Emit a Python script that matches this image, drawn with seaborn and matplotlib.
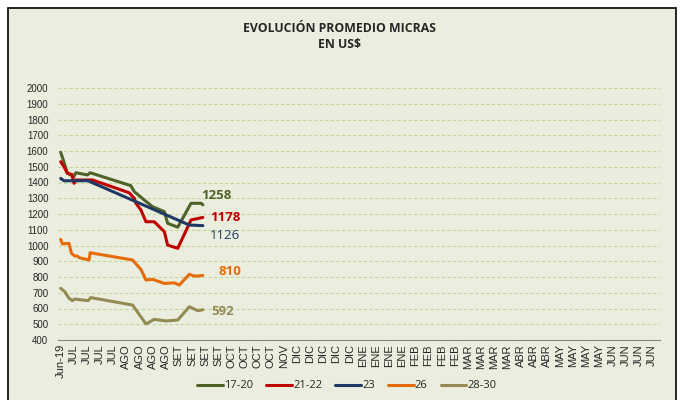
import pandas as pd
import seaborn as sns
import matplotlib.pyplot as plt
from matplotlib.patches import Rectangle

# etiquetas del eje x (una por semana)
semanas = ['Jun-19', 'JUL', 'JUL', 'JUL', 'JUL', 'AGO', 'AGO', 'AGO', 'AGO',
           'SET', 'SET', 'SET', 'SET', 'OCT', 'OCT', 'OCT', 'OCT', 'NOV',
           'DIC', 'DIC', 'DIC', 'DIC', 'DIC', 'ENE', 'ENE', 'ENE', 'ENE',
           'FEB', 'FEB', 'FEB', 'FEB', 'MAR', 'MAR', 'MAR', 'MAR',
           'ABR', 'ABR', 'ABR', 'MAY', 'MAY', 'MAY', 'MAY',
           'JUN', 'JUN', 'JUN', 'JUN']

# posicion (en semanas) y precio de cada serie
x_17_20 = [0, 0.25, 0.5, 1.0, 1.15, 2.04, 2.24, 5.34, 5.6, 6.36, 7.0, 7.89, 8.14, 8.91, 9.92, 10.69, 10.82]
y_17_20 = [1592, 1530, 1460, 1437, 1462, 1448, 1462, 1380, 1342, 1289, 1246, 1215, 1141, 1116, 1268, 1268, 1258]

x_21_22 = [0, 0.25, 0.51, 0.84, 1.02, 1.15, 2.42, 5.21, 5.6, 5.73, 6.11, 6.49, 7.12, 7.89, 8.14, 8.91, 9.92, 10.69, 10.82]
y_21_22 = [1532, 1501, 1458, 1452, 1395, 1416, 1416, 1335, 1300, 1268, 1225, 1151, 1151, 1088, 1003, 982, 1162, 1176, 1178]

x_23 = [0, 0.25, 2.08, 9.79, 10.82]
y_23 = [1426, 1411, 1411, 1130, 1126]

x_26 = [0, 0.13, 0.63, 0.82, 1.07, 1.27, 1.40, 2.16, 2.24, 5.47, 6.11, 6.49, 7.0, 7.89, 8.65, 9.03, 9.79, 10.18, 10.44, 10.82]
y_26 = [1039, 1010, 1014, 951, 933, 933, 923, 908, 954, 908, 848, 781, 785, 759, 763, 749, 817, 806, 806, 810]

x_28_30 = [0, 0.31, 0.63, 0.89, 1.07, 2.08, 2.29, 5.47, 6.49, 7.12, 8.02, 8.91, 9.79, 10.44, 10.82]
y_28_30 = [728, 707, 665, 650, 660, 650, 669, 622, 502, 531, 521, 527, 611, 586, 592]

series = ['17-20', '21-22', '23', '26', '28-30']
colores = ['#4F6228', '#C00000', '#1F3864', '#E46C0A', '#948A54']
ultimos = [1258, 1178, 1126, 810, 592]

frames = []
for nombre, xs, ys in zip(series,
                          [x_17_20, x_21_22, x_23, x_26, x_28_30],
                          [y_17_20, y_21_22, y_23, y_26, y_28_30]):
    frames.append(pd.DataFrame({'semana': xs, 'precio': ys, 'serie': nombre}))
df = pd.concat(frames, ignore_index=True)

sns.set_style('white')
plt.rcParams['font.family'] = ['Open Sans', 'DejaVu Sans']
fondo = '#EBEEDF'

fig = plt.figure(figsize=(6.83, 4), dpi=100, facecolor='white')
fig.patches.append(Rectangle((8 / 683, -0.1), 668 / 683, 1.08, transform=fig.transFigure,
                             facecolor=fondo, edgecolor='black', linewidth=1.2, zorder=-5))
ax = fig.add_axes([0.085, 0.15, 0.881, 0.63])
ax.set_zorder(2)
ax.set_facecolor(fondo)

sns.lineplot(data=df, x='semana', y='precio', hue='serie', palette=colores,
             estimator=None, sort=False, linewidth=2.2, ax=ax)

ax.set_ylim(400, 2000)
ax.set_yticks(range(400, 2001, 100))
ax.set_xlim(-0.2, 45.6)
ax.set_xticks(range(len(semanas)))
ax.set_xticklabels(semanas, rotation=90, fontsize=8, family=['Liberation Sans'])
ax.tick_params(axis='y', labelsize=7, length=0, pad=7)
ax.tick_params(axis='x', length=0, pad=3)
for lbl in ax.get_yticklabels():
    lbl.set_family(['Liberation Sans'])
ax.grid(axis='y', linestyle=(0, (3, 2)), color='#C3D69B', linewidth=0.8)
ax.set_axisbelow(True)
for s in ['top', 'right', 'left']:
    ax.spines[s].set_visible(False)
ax.spines['bottom'].set_color('#868686')
ax.set_xlabel('')
ax.set_ylabel('')

# etiquetas de valor final
desplaz = [(-1, 7), (5, 0), (5, -7), (11, 3), (6, -1.5)]
negrita = ['bold', 'bold', 'normal', 'bold', 'bold']
for nombre, col, val, (dx, dy), w, xs in zip(series, colores, ultimos, desplaz, negrita,
                                              [x_17_20, x_21_22, x_23, x_26, x_28_30]):
    ax.annotate(str(val), (xs[-1], val), xytext=(dx, dy), textcoords='offset points',
                color=col, fontsize=9.5, fontweight=w, va='center', ha='left')

fig.text(0.497, 0.93, 'EVOLUCIÓN PROMEDIO MICRAS', ha='center', va='center',
         fontsize=8.8, fontweight='bold')
fig.text(0.497, 0.888, 'EN US$', ha='center', va='center', fontsize=8.8, fontweight='bold')

ax.legend(loc='center', bbox_to_anchor=(0.508, 0.035), bbox_transform=fig.transFigure,
          ncol=5, frameon=False, fontsize=8, handlelength=2.3, handletextpad=0.1,
          columnspacing=1.2, title=None)

plt.savefig('out.png', dpi=100, facecolor='white')
